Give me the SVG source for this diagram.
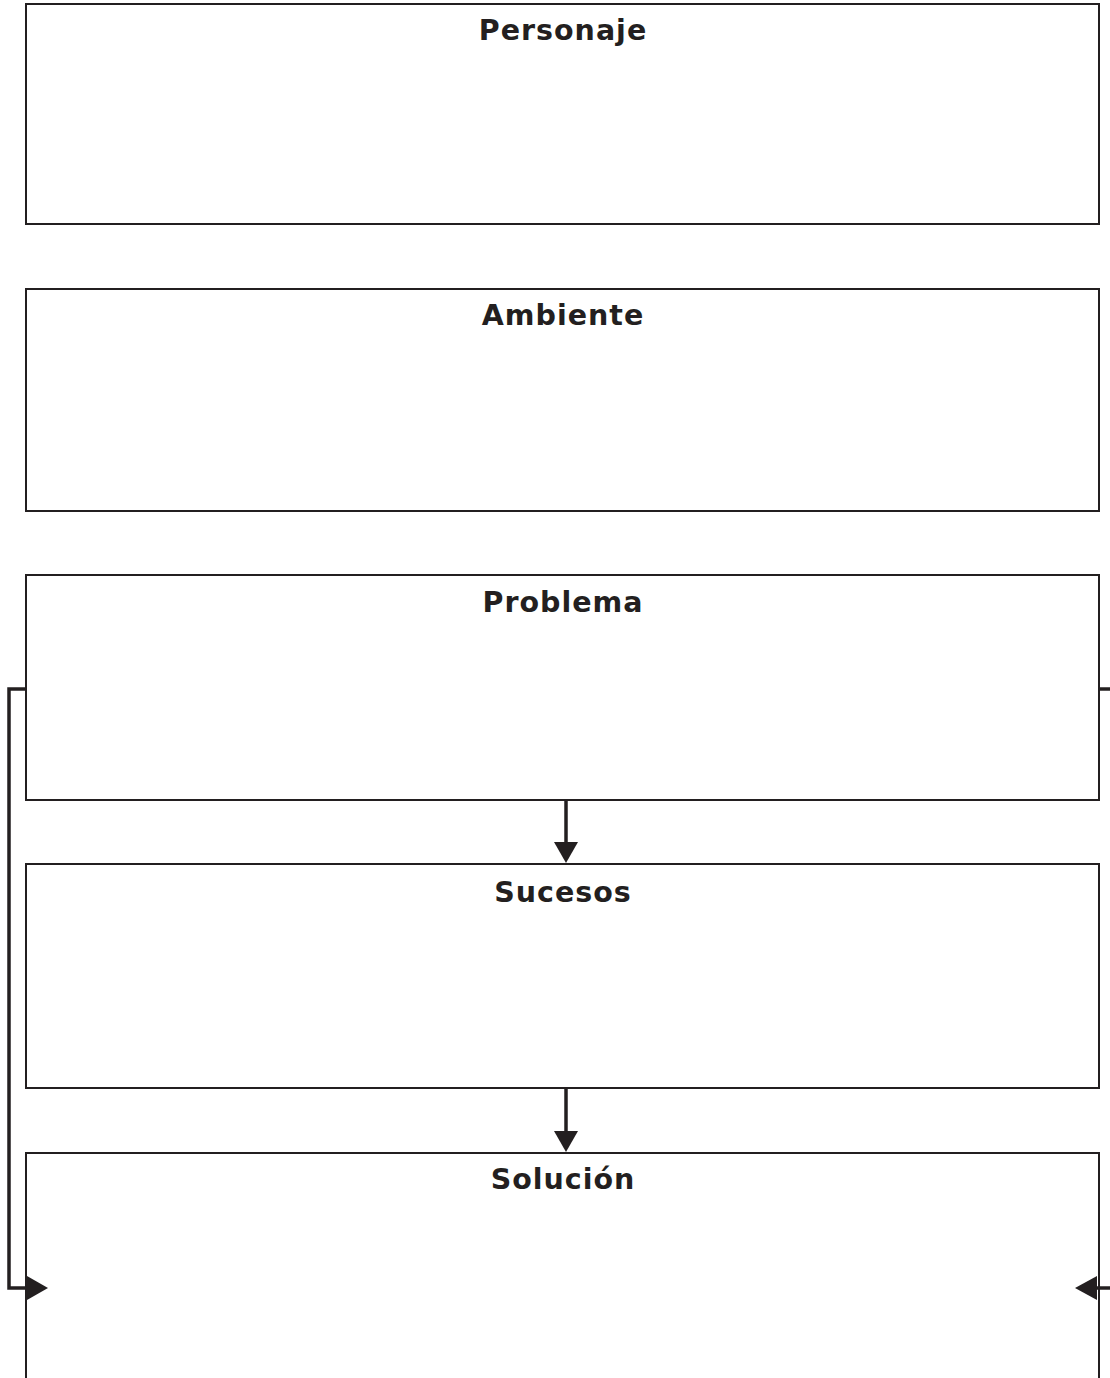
<svg xmlns="http://www.w3.org/2000/svg" width="1110" height="1378" viewBox="0 0 1110 1378">
<style>
.box{fill:#fff;stroke:#231f20;stroke-width:2}
.lbl{font-family:"DejaVu Sans","Open Sans",sans-serif;font-weight:700;font-size:28.5px;letter-spacing:1px;fill:#231f20;text-anchor:middle}
.con{fill:none;stroke:#231f20;stroke-width:3.5}
.head{fill:#231f20}
</style>
<rect width="1110" height="1378" fill="#fff"/>
<g id="personaje"><rect class="box" x="26" y="4" width="1073" height="220"/><text class="lbl" x="563" y="40">Personaje</text></g>
<g id="ambiente"><rect class="box" x="26" y="289" width="1073" height="222"/><text class="lbl" x="563" y="325">Ambiente</text></g>
<g id="problema"><rect class="box" x="26" y="575" width="1073" height="225"/><text class="lbl" x="563" y="612">Problema</text></g>
<g id="sucesos"><rect class="box" x="26" y="864" width="1073" height="224"/><text class="lbl" x="563" y="902">Sucesos</text></g>
<g id="solucion"><rect class="box" x="26" y="1153" width="1073" height="240"/><text class="lbl" x="563" y="1189">Solución</text></g>
<g id="connectors">
<path class="con" d="M566 800 V845"/>
<polygon class="head" points="554,842 578,842 566,863"/>
<path class="con" d="M566 1089 V1134"/>
<polygon class="head" points="554,1131 578,1131 566,1152"/>
<path class="con" d="M26 689 H9 V1288 H30"/>
<polygon class="head" points="27,1276 48,1288 27,1300"/>
<path class="con" d="M1099 689 H1112"/>
<path class="con" d="M1112 1288 H1094"/>
<polygon class="head" points="1097,1276 1075,1288 1097,1300"/>
</g>
</svg>
